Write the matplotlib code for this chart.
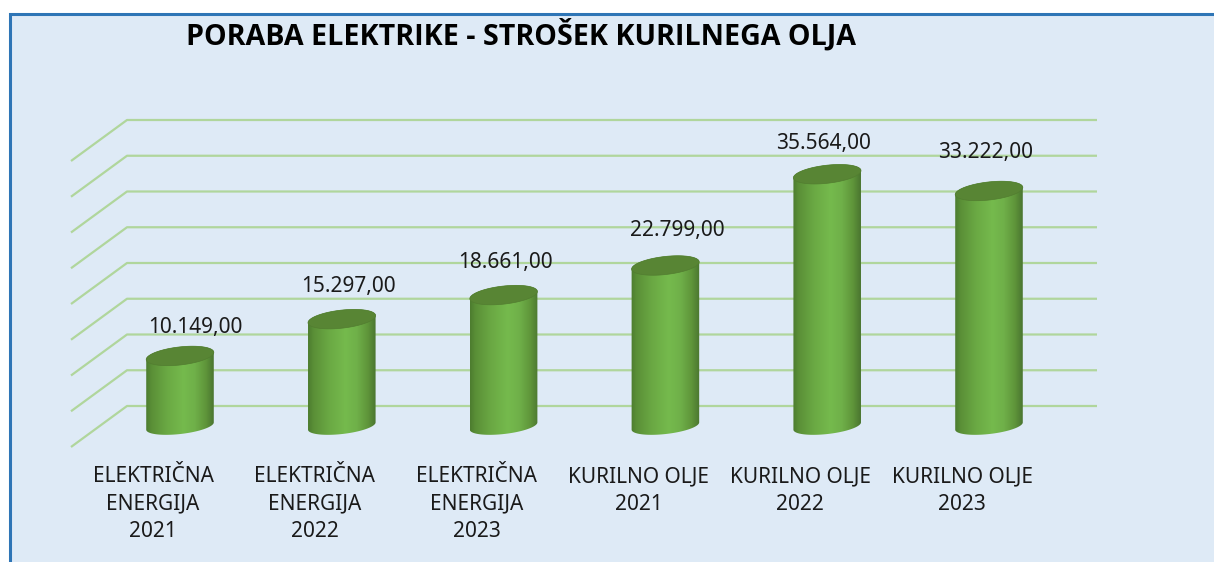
import numpy as np
import matplotlib
matplotlib.use('Agg')
import matplotlib.pyplot as plt
from matplotlib.colors import LinearSegmentedColormap
from matplotlib.patches import Polygon, Rectangle

categories = ['ELEKTRIČNA\nENERGIJA\n2021', 'ELEKTRIČNA\nENERGIJA\n2022', 'ELEKTRIČNA\nENERGIJA\n2023',
              'KURILNO OLJE\n2021', 'KURILNO OLJE\n2022', 'KURILNO OLJE\n2023']
values = [10149, 15297, 18661, 22799, 35564, 33222]
value_labels = ['10.149,00', '15.297,00', '18.661,00', '22.799,00', '35.564,00', '33.222,00']
grid_values = [0, 5000, 10000, 15000, 20000, 25000, 30000, 35000, 40000]
title = 'PORABA ELEKTRIKE - STROŠEK KURILNEGA OLJA'

# label nudges, in pixels
label_dx = [15, 7, 2, 12, -4, -3]
label_dy = [26, 30, 30, 32, 28, 36]

W, H = 1214, 562
STEP = 161.8      # px between bars
SCALE = 0.00715   # px per value
X0, Y0 = 180, 426 # pixel of first bar base centre

plt.rcParams['font.family'] = ['Noto Sans', 'DejaVu Sans']

fig = plt.figure(figsize=(W / 100, H / 100), dpi=100, facecolor='white')
ax = fig.add_axes([0, 0, 1, 1])
ax.set_xlim(-X0 / STEP, (W - X0) / STEP)
ax.set_ylim((Y0 - H) / SCALE, Y0 / SCALE)
ax.axis('off')

px = 1 / STEP
py = 1 / SCALE

# panel
ax.add_patch(Rectangle((ax.get_xlim()[0] + 9.5 * px, ax.get_ylim()[0] - 10 * py), 1300 * px, (H + 10 - 14.5) * py,
                       facecolor='#deeaf6', edgecolor='#2e75b6', linewidth=2.2, zorder=0))

# back wall and floor lines
grid_color = '#b0d69c'
for g in grid_values:
    xs = [(71 - X0) * px, (127 - X0) * px, (1097 - X0) * px]
    ys = [g - 21 * py, g + 20 * py, g + 20 * py]
    ax.plot(xs, ys, color=grid_color, linewidth=1.6, zorder=1, solid_capstyle='butt')

bar_cmap = LinearSegmentedColormap.from_list('bar', [
    (0.0, '#4c7c2f'), (0.08, '#5a8f37'), (0.3, '#6aa843'), (0.55, '#75ba4d'), (0.72, '#6fb049'),
    (0.88, '#5f953a'), (1.0, '#4a7530')])
shade = np.linspace(0, 1, 256).reshape(1, -1)

A = 34.0   # ellipse half width px
B = 9.0    # ellipse half height px
TILT = np.radians(6.5)
TOP_SHIFT = -2.5 * py


def ellipse(cx, cy, t, b=B):
    # tilted ellipse, cx in data x, cy in data y
    ex = A * np.cos(t) * np.cos(TILT) - b * np.sin(t) * np.sin(TILT)
    ey = A * np.cos(t) * np.sin(TILT) + b * np.sin(t) * np.cos(TILT)
    return np.column_stack([cx + ex * px, cy + ey * py])


for i, v in enumerate(values):
    lower = ellipse(i, 0, np.linspace(np.pi, 2 * np.pi, 60), 8.0)
    upper = ellipse(i, v + TOP_SHIFT, np.linspace(0, np.pi, 60))
    body = np.vstack([lower, upper])
    im = ax.imshow(shade, cmap=bar_cmap, aspect='auto', zorder=3, interpolation='bilinear',
                   extent=(i - A * px, i + A * px, -30 * py, v + 30 * py))
    patch = Polygon(body, closed=True, facecolor='none', edgecolor='none', zorder=3)
    ax.add_patch(patch)
    im.set_clip_path(patch)
    ax.add_patch(Polygon(ellipse(i, v + TOP_SHIFT, np.linspace(0, 2 * np.pi, 120)), closed=True,
                         facecolor='#588534', edgecolor='#527d30', linewidth=0.5, zorder=4))
    ax.text(i + label_dx[i] * px, v + label_dy[i] * py, value_labels[i], ha='center', va='center',
            fontsize=15, color='#1a1a1a', zorder=5)
    ax.text(i - 27 * px, (Y0 - 466) * py, categories[i], ha='center', va='top',
            fontsize=15, color='#1a1a1a', linespacing=1.42, zorder=5)

ax.text((186 - X0) * px, (Y0 - 35) * py, title, ha='left', va='center', family=['Open Sans', 'DejaVu Sans'],
        fontsize=20.6, fontweight='bold', color='black', zorder=5)

ax.set_xlim(-X0 / STEP, (W - X0) / STEP)
ax.set_ylim((Y0 - H) / SCALE, Y0 / SCALE)

fig.savefig('out.png', dpi=100, facecolor='white')
